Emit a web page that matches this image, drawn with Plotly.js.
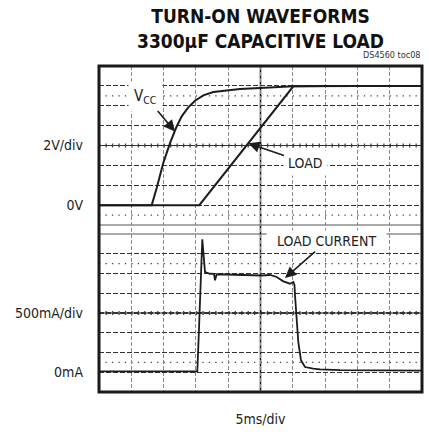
<!DOCTYPE html>
<html>
<head>
<meta charset="utf-8">
<script src="https://cdn.plot.ly/plotly-3.0.1.min.js"></script>
<style>html,body{margin:0;padding:0;background:#fff;}#chart{width:429px;height:434px;}</style>
</head>
<body>
<div id="chart"></div>
<script>
// ---- data (time in ms, 5 ms/div) ----
const vccTime = [0, 4, 8.16, 8.93, 9.95, 10.99, 11.92, 12.80, 13.82, 14.86, 16.15, 17.69, 19.77, 21.83, 24.92, 28.02, 30.08, 35, 40, 45, 50];
const vccVolts = [0, 0, 0, 0.86, 2.12, 3.12, 3.88, 4.47, 4.92, 5.25, 5.52, 5.69, 5.78, 5.84, 5.89, 5.94, 5.98, 6.0, 6.0, 6.0, 6.0];
const loadTime = [0, 8, 15.53, 30.08, 35, 40, 45, 50];
const loadVolts = [0, 0, 0, 5.98, 6.0, 6.0, 6.0, 6.0];
const currTime = [0, 5, 10, 15.22, 15.48, 15.99, 16.41, 17.18, 17.80, 17.96, 18.22, 21.83, 25.19, 26.47, 27.51, 28.53, 29.57, 30.08, 30.26, 30.34, 30.60, 30.85, 31.27, 31.89, 33.17, 34.21, 37.31, 42, 50];
const currMilliamps = [10, 8, 12, 10, 551, 1683, 1269, 1247, 1244, 1164, 1240, 1231, 1225, 1231, 1206, 1151, 1121, 1142, 1104, 974, 678, 383, 151, 66, 45, 37, 28, 22, 20];
const voltTickVals = [0, 1, 2, 3, 4, 5, 6];
const voltTickText = ['0V', '', '', '2V/div', '', '', ''];
const currTickVals = [0, 250, 500, 750, 1000, 1250, 1500];
const currTickText = ['0mA', '', '', '500mA/div', '', '', ''];
const timeTickVals = [5, 10, 15, 20, 25, 30, 35, 40, 45];

const FONT = 'Liberation Sans Narrow, Arial Narrow, DejaVu Sans Condensed, Roboto Condensed, sans-serif';
const INK = '#1c1c1c';
const LBL = 14;

const traces = [
  {x: vccTime, y: vccVolts, xaxis: 'x', yaxis: 'y', mode: 'lines', line: {color: INK, width: 2}, hoverinfo: 'skip'},
  {x: loadTime, y: loadVolts, xaxis: 'x', yaxis: 'y', mode: 'lines', line: {color: INK, width: 2}, hoverinfo: 'skip'},
  {x: currTime, y: currMilliamps, xaxis: 'x', yaxis: 'y2', mode: 'lines', line: {color: INK, width: 1.8}, hoverinfo: 'skip'}
];

const dotDash = '1.3px,5.16px';
function hline(yref, y, dash, width, color) {
  return {type: 'line', xref: 'paper', x0: 0, x1: 1, yref: yref, y0: y, y1: y, layer: 'between',
          line: {color: color, width: width, dash: dash}};
}

const shapes = [
  hline('y', -1, 'solid', 1, '#555'),
  hline('y2', 1750, 'solid', 1, '#555'),
  hline('y', 3, 'solid', 1.2, '#222'),
  hline('y', 3, dotDash, 4, '#444'),
  hline('y2', 750, 'solid', 1.2, '#222'),
  hline('y2', 750, dotDash, 4, '#444'),
  hline('y', 5.5, dotDash, 1.3, '#444'),
  hline('y', -0.5, dotDash, 1.3, '#444'),
  hline('y2', 1375, dotDash, 1.3, '#444'),
  hline('y2', 125, dotDash, 1.3, '#444'),
  {type: 'line', xref: 'x', x0: 25, x1: 25, yref: 'paper', y0: 0, y1: 1, layer: 'between', line: {color: '#111', width: 1.5}},
  {type: 'rect', xref: 'paper', yref: 'paper', x0: 0, x1: 1, y0: 0, y1: 1, layer: 'above', line: {color: '#1a1a1a', width: 3}}
];

const annFont = {family: FONT, size: LBL, color: '#222'};
const arrowStyle = {showarrow: true, arrowhead: 2, arrowsize: 1.4, arrowwidth: 1.6, arrowcolor: INK, bgcolor: '#fff'};
const annotations = [
  {xref: 'paper', yref: 'paper', x: 1, y: 1.034, xanchor: 'right', yanchor: 'middle', text: 'DS4560 toc08', showarrow: false,
   font: {family: FONT, size: 9, color: '#333'}},
  Object.assign({xref: 'x', yref: 'y', x: 11.76, y: 3.71, axref: 'x', ayref: 'y', ax: 7.12, ay: 5.49,
   text: 'V<sub>CC</sub>', borderpad: 5, font: {family: FONT, size: 15, color: '#222'}}, arrowStyle),
  Object.assign({xref: 'x', yref: 'y', x: 23.11, y: 3.11, axref: 'x', ayref: 'y', ax: 32.04, ay: 2.12,
   text: 'LOAD', borderpad: 4, font: annFont}, arrowStyle),
  Object.assign({xref: 'x', yref: 'y2', x: 28.79, y: 1193, axref: 'x', ayref: 'y2', ax: 35.29, ay: 1661,
   text: '\u00a0\u00a0LOAD CURRENT\u00a0\u00a0', borderpad: 2, font: annFont}, arrowStyle)
];

const layout = {
  width: 429, height: 434,
  margin: {l: 99, r: 7, t: 66, b: 42},
  paper_bgcolor: '#fff', plot_bgcolor: '#fff',
  showlegend: false,
  font: {family: FONT, size: LBL, color: '#222'},
  title: {text: 'TURN-ON WAVEFORMS<br>3300μF CAPACITIVE LOAD', x: 0.5, xref: 'paper', xanchor: 'center',
          y: 0.947, yref: 'container', yanchor: 'top',
          font: {family: FONT, size: 19, weight: 700, color: '#111'}},
  xaxis: {range: [0, 50], tickmode: 'array', tickvals: timeTickVals, showticklabels: false, ticks: '',
          showgrid: true, gridcolor: '#8a8a8a', gridwidth: 1, griddash: '4px,2px', zeroline: false, showline: false,
          fixedrange: true,
          title: {text: '5ms/div', standoff: 22, font: {family: FONT, size: LBL, color: '#222'}}},
  yaxis: {range: [-9.402, 7], tickmode: 'array', tickvals: voltTickVals, ticktext: voltTickText,
          showgrid: true, gridcolor: '#333', gridwidth: 1.2, griddash: '5px,2px', zeroline: false, showline: false,
          ticks: '', ticklabelstandoff: 15, tickfont: {family: FONT, size: LBL, color: '#222'}, fixedrange: true},
  yaxis2: {range: [-250, 3876.6], overlaying: 'y', side: 'left', tickmode: 'array', tickvals: currTickVals, ticktext: currTickText,
          showgrid: true, gridcolor: '#333', gridwidth: 1.2, griddash: '5px,2px', zeroline: false, showline: false,
          ticks: '', ticklabelstandoff: 15, tickfont: {family: FONT, size: LBL, color: '#222'}, fixedrange: true},
  shapes: shapes,
  annotations: annotations
};

Plotly.newPlot('chart', traces, layout, {staticPlot: true, displayModeBar: false});
</script>
</body>
</html>
